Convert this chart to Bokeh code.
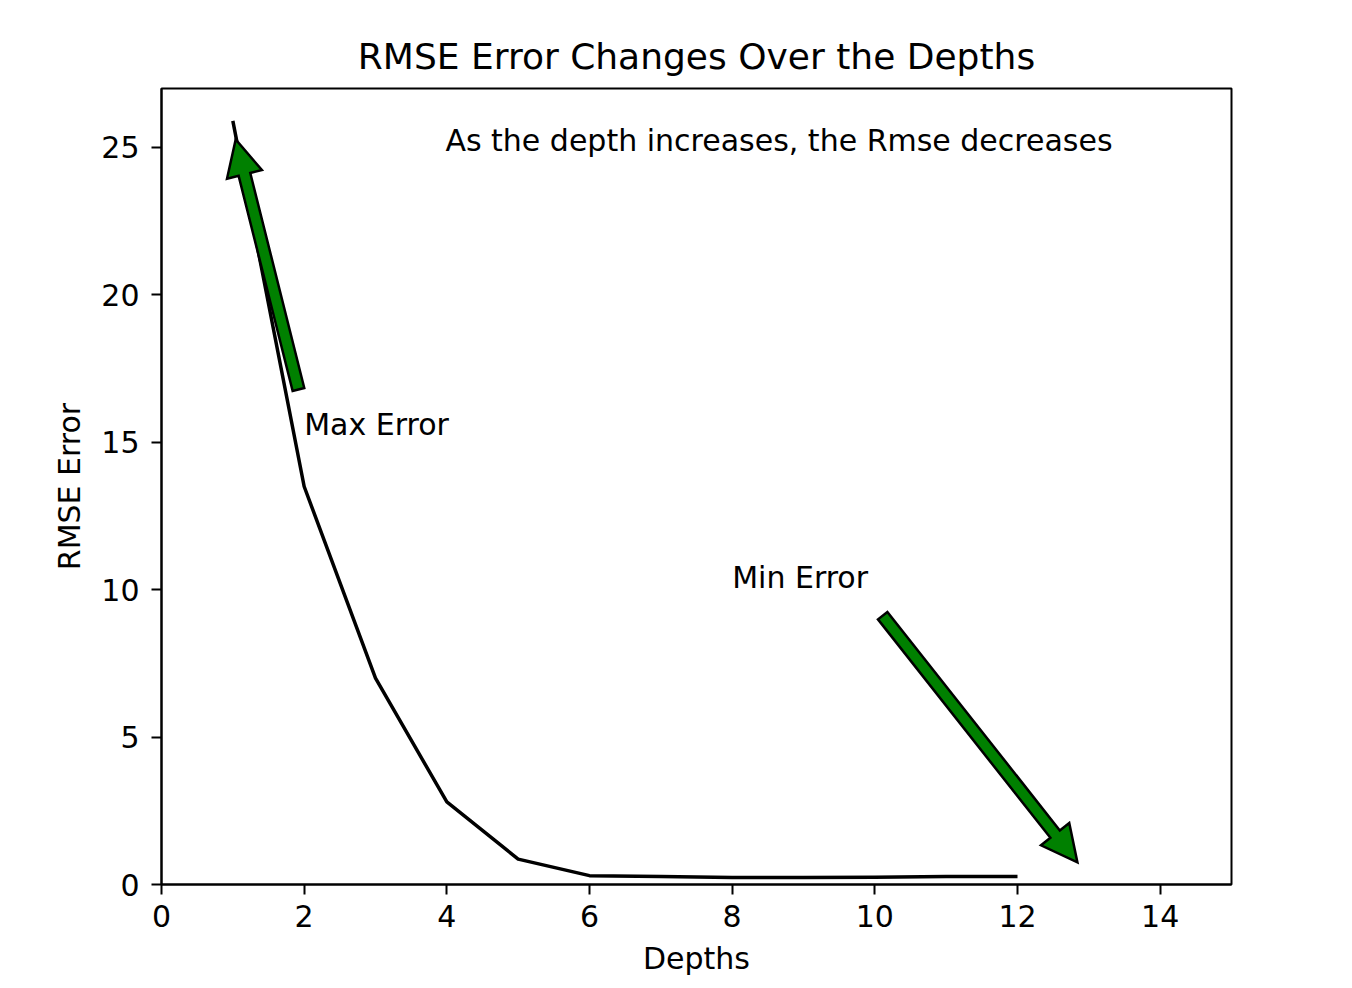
import numpy as np
from bokeh.plotting import figure
from bokeh.models import Range1d, FixedTicker, ColumnDataSource
from bokeh.core.properties import value
from bokeh.embed import file_html
from bokeh.resources import INLINE

# ---- data ----
depths = [1, 2, 3, 4, 5, 6, 7, 8, 9, 10, 11, 12]
rmse = [25.9, 13.5, 7.0, 2.8, 0.86, 0.3, 0.27, 0.24, 0.24, 0.25, 0.27, 0.27]

x_ticks = [0, 2, 4, 6, 8, 10, 12, 14]
y_ticks = [0, 5, 10, 15, 20, 25]

title_text = "RMSE Error Changes Over the Depths"
x_label = "Depths"
y_label = "RMSE Error"

note_text = ["As the depth increases, the Rmse decreases", "Max Error", "Min Error"]
note_x = [3.98, 2.0, 8.0]
note_y = [25.25, 15.6, 10.42]

# arrows: tail -> tip (data coords)
arrow_tail_x = [1.92, 10.11]
arrow_tail_y = [16.79, 9.12]
arrow_tip_x = [1.04, 12.84]
arrow_tip_y = [25.27, 0.75]

X0, X1 = 0, 15
Y0, Y1 = 0, 27
FW, FH = 1070, 796
FONT = "DejaVu Sans"
FS = "30px"

p = figure(width=161 + FW + 110, height=88 + FH + 100,
           frame_width=FW, frame_height=FH,
           x_range=Range1d(X0, X1), y_range=Range1d(Y0, Y1),
           output_backend="svg", toolbar_location=None,
           min_border_left=161, min_border_top=88,
           min_border_right=110, min_border_bottom=100)

p.title.text = title_text
p.title.text_font = FONT
p.title.text_font_size = "36px"
p.title.text_font_style = "normal"
p.title.align = "center"
p.title.text_color = "black"
p.title.standoff = 23

p.grid.visible = False
p.outline_line_color = "black"
p.outline_line_width = 2
p.background_fill_color = "white"
p.border_fill_color = "white"

for ax, ticks, lab in ((p.xaxis[0], x_ticks, x_label), (p.yaxis[0], y_ticks, y_label)):
    ax.ticker = FixedTicker(ticks=ticks)
    ax.axis_label = lab
    ax.axis_label_text_font = FONT
    ax.axis_label_text_font_size = FS
    ax.axis_label_text_font_style = "normal"
    ax.axis_label_text_color = "black"
    ax.major_label_text_font = FONT
    ax.major_label_text_font_size = FS
    ax.major_label_text_color = "black"
    ax.axis_line_width = 2
    ax.axis_line_color = "black"
    ax.major_tick_line_width = 2
    ax.major_tick_line_color = "black"
    ax.major_tick_out = 10
    ax.major_tick_in = 0
    ax.minor_tick_line_color = None

p.xaxis[0].major_label_standoff = 10
p.xaxis[0].axis_label_standoff = 11
p.yaxis[0].major_label_standoff = 12
p.yaxis[0].axis_label_standoff = 11

p.line(depths, rmse, line_color="black", line_width=3.5, line_join="round")

# arrow polygons built from tail/tip via the frame's pixel scales
sx = FW / (X1 - X0)
sy = FH / (Y1 - Y0)
half_shaft, half_head, head_len = 6.0, 18.0, 36.0
xs, ys = [], []
for tx, ty, hx, hy in zip(arrow_tail_x, arrow_tail_y, arrow_tip_x, arrow_tip_y):
    t = np.array([tx * sx, ty * sy])
    h = np.array([hx * sx, hy * sy])
    u = (h - t) / np.linalg.norm(h - t)
    n = np.array([-u[1], u[0]])
    b = h - u * head_len
    pts = [t + n * half_shaft, b + n * half_shaft, b + n * half_head, h,
           b - n * half_head, b - n * half_shaft, t - n * half_shaft]
    xs.append([pt[0] / sx for pt in pts])
    ys.append([pt[1] / sy for pt in pts])

p.patches(xs, ys, fill_color="#008000", line_color="black", line_width=2.5, line_join="miter")

src = ColumnDataSource(dict(x=note_x, y=note_y, text=note_text))
p.text(x="x", y="y", text="text", source=src, text_font=value(FONT),
       text_font_size=FS, text_color="black",
       text_align="left", text_baseline="alphabetic")

open("out.html", "w").write(file_html(p, INLINE))
